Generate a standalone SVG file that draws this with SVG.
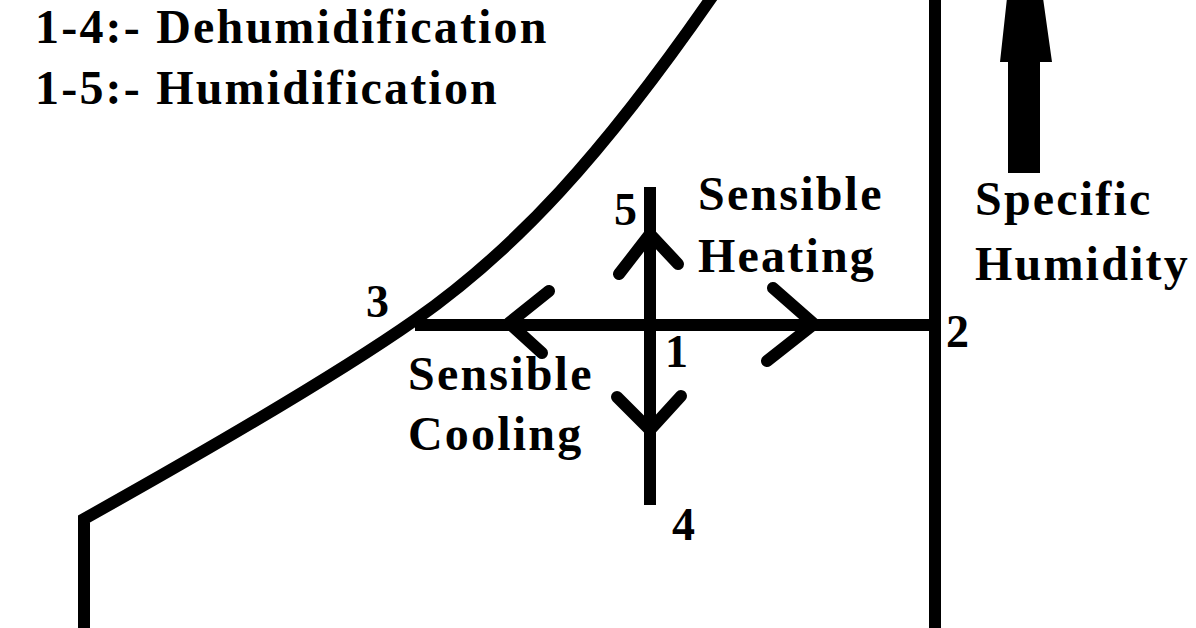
<svg xmlns="http://www.w3.org/2000/svg" width="1196" height="628" viewBox="0 0 1196 628">
<style>
.ln{fill:none;stroke:#000;stroke-width:12;stroke-linejoin:miter}
.ah{fill:none;stroke:#000;stroke-width:12;stroke-linecap:round;stroke-linejoin:round}
.t{font-family:"Liberation Serif","Times New Roman",serif;font-weight:bold;font-size:48px;letter-spacing:2.2px;fill:#000}
.n{font-family:"Liberation Serif","Times New Roman",serif;font-weight:bold;font-size:46px;fill:#000}
</style>
<rect width="1196" height="628" fill="#fff"/>
<g id="chart">
<path class="ln" d="M84,634 L84,519 Q318,388 415,320 C515,250 602,156 714,-6"/>
<path class="ln" d="M935,-6 L935,634"/>
</g>
<g id="connectors">
<path class="ln" d="M415,325 L935,325"/>
<path class="ln" d="M650,187 L650,505"/>
<polyline class="ah" points="619,274 650,234 678,264"/>
<polyline class="ah" points="549,291 509,323 542,353"/>
<polyline class="ah" points="773,288 814,324 767,361"/>
<polyline class="ah" points="617,397 650,430 681,396"/>
<polygon fill="#000" points="1008,173 1040,173 1040,62 1052,62 1043,-2 1007,-2 1000,62 1008,62"/>
</g>
<g id="legend">
<text class="t" x="35" y="43">1-4:- Dehumidification</text>
<text class="t" x="35" y="104">1-5:- Humidification</text>
</g>
<g id="heating-label">
<text class="t" x="698" y="210">Sensible</text>
<text class="t" x="698" y="272">Heating</text>
</g>
<g id="cooling-label">
<text class="t" x="408" y="390">Sensible</text>
<text class="t" x="408" y="450">Cooling</text>
</g>
<g id="axis-label">
<text class="t" x="975" y="215">Specific</text>
<text class="t" x="975" y="280">Humidity</text>
</g>
<g id="points">
<text class="n" x="366" y="317">3</text>
<text class="n" x="946" y="347">2</text>
<text class="n" x="665" y="367">1</text>
<text class="n" x="614" y="225">5</text>
<text class="n" x="672" y="540">4</text>
</g>
</svg>
